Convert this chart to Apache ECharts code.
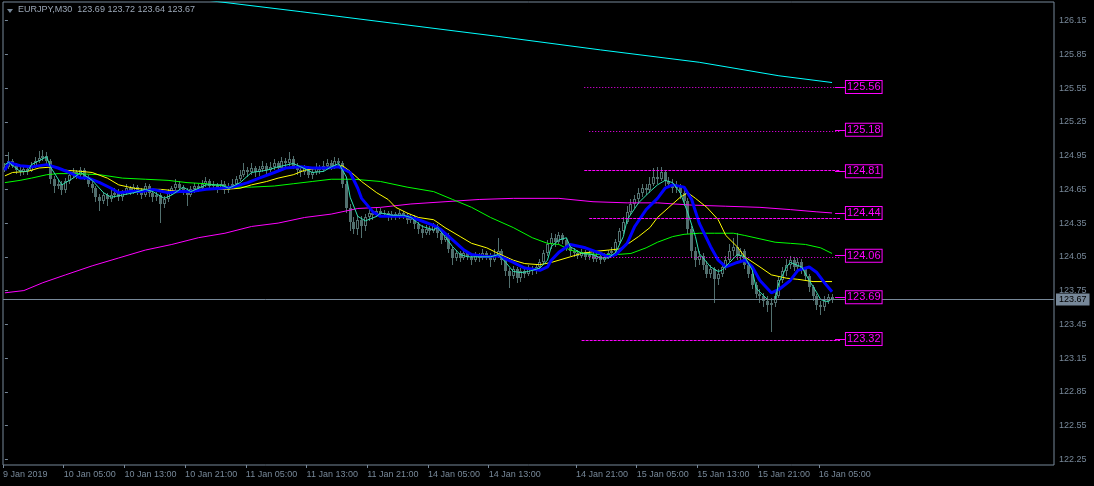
<!DOCTYPE html>
<html>
<head>
<meta charset="utf-8">
<script src="https://cdn.jsdelivr.net/npm/echarts@6/dist/echarts.min.js"></script>
<style>
html,body{margin:0;padding:0;background:#000;}
#chart{width:1094px;height:486px;}
</style>
</head>
<body>
<div id="chart"></div>
<script>
// ---------- data ----------
const SLOTS = 277; // bar slots across the plot (incl. empty right shift)
const titleText = 'EURJPY,M30  123.69 123.72 123.64 123.67';
const lastPrice = 123.67;

// x-axis tick bars and labels
const tickIdx = [0,16,32,48,64,80,96,112,128,151,167,183,199,215];
const tickText = ['9 Jan 2019','10 Jan 05:00','10 Jan 13:00','10 Jan 21:00','11 Jan 05:00','11 Jan 13:00','11 Jan 21:00','14 Jan 05:00','14 Jan 13:00','14 Jan 21:00','15 Jan 05:00','15 Jan 13:00','15 Jan 21:00','16 Jan 05:00'];
// y-axis tick values
const yTicks = [122.25,122.55,122.85,123.15,123.45,123.75,124.05,124.35,124.65,124.95,125.25,125.55,125.85,126.15];

// candles: [open, close, low, high]
const bars = [
[124.82,124.85,124.80,124.88],[124.85,124.90,124.83,124.98],[124.90,124.86,124.84,124.92],[124.86,124.82,124.79,124.88],[124.82,124.80,124.77,124.85],
[124.80,124.83,124.78,124.86],[124.83,124.81,124.78,124.85],[124.81,124.86,124.80,124.89],[124.86,124.90,124.84,124.94],[124.90,124.93,124.88,124.99],
[124.93,124.95,124.90,125.00],[124.95,124.90,124.87,124.98],[124.90,124.74,124.70,124.92],[124.74,124.68,124.62,124.77],[124.68,124.70,124.65,124.73],
[124.70,124.64,124.60,124.72],[124.64,124.72,124.62,124.75],[124.72,124.78,124.70,124.80],[124.78,124.80,124.75,124.84],[124.80,124.78,124.74,124.82],
[124.78,124.82,124.76,124.85],[124.82,124.76,124.73,124.84],[124.76,124.70,124.67,124.78],[124.70,124.66,124.62,124.72],[124.66,124.58,124.54,124.68],
[124.58,124.55,124.46,124.61],[124.55,124.60,124.52,124.63],[124.60,124.56,124.50,124.62],[124.56,124.60,124.54,124.64],[124.60,124.62,124.57,124.66],
[124.62,124.58,124.55,124.65],[124.58,124.62,124.55,124.64],[124.62,124.66,124.60,124.70],[124.66,124.63,124.60,124.68],[124.63,124.67,124.61,124.70],
[124.67,124.64,124.60,124.69],[124.64,124.60,124.56,124.66],[124.60,124.68,124.58,124.71],[124.68,124.62,124.58,124.70],[124.62,124.58,124.54,124.64],
[124.58,124.60,124.55,124.63],[124.60,124.52,124.35,124.62],[124.52,124.56,124.48,124.59],[124.56,124.62,124.54,124.65],[124.62,124.66,124.60,124.68],
[124.66,124.70,124.64,124.74],[124.70,124.66,124.62,124.72],[124.66,124.64,124.60,124.69],[124.64,124.60,124.50,124.66],[124.60,124.65,124.58,124.68],
[124.65,124.68,124.62,124.71],[124.68,124.66,124.63,124.70],[124.66,124.70,124.64,124.73],[124.70,124.72,124.67,124.76],[124.72,124.68,124.65,124.74],
[124.68,124.69,124.65,124.72],[124.69,124.66,124.62,124.71],[124.66,124.70,124.64,124.73],[124.70,124.64,124.61,124.72],[124.64,124.68,124.62,124.71],
[124.68,124.70,124.65,124.74],[124.70,124.74,124.68,124.77],[124.74,124.78,124.72,124.82],[124.78,124.82,124.76,124.88],[124.82,124.80,124.76,124.85],
[124.80,124.84,124.78,124.88],[124.84,124.80,124.76,124.86],[124.80,124.83,124.77,124.86],[124.83,124.86,124.80,124.90],[124.86,124.82,124.78,124.88],
[124.82,124.85,124.80,124.89],[124.85,124.88,124.82,124.92],[124.88,124.84,124.80,124.90],[124.84,124.90,124.82,124.94],[124.90,124.88,124.84,124.93],
[124.88,124.92,124.86,124.98],[124.92,124.86,124.83,124.95],[124.86,124.82,124.78,124.88],[124.82,124.80,124.76,124.85],[124.80,124.84,124.78,124.87],
[124.84,124.78,124.75,124.86],[124.78,124.80,124.74,124.84],[124.80,124.84,124.78,124.88],[124.84,124.82,124.79,124.87],[124.82,124.86,124.80,124.90],
[124.86,124.88,124.83,124.92],[124.88,124.85,124.82,124.91],[124.85,124.90,124.83,124.94],[124.90,124.88,124.84,124.93],[124.88,124.70,124.66,124.90],
[124.70,124.48,124.44,124.72],[124.48,124.36,124.28,124.52],[124.36,124.30,124.25,124.40],[124.30,124.38,124.24,124.42],[124.38,124.32,124.22,124.41],
[124.32,124.40,124.28,124.43],[124.40,124.44,124.37,124.48],[124.44,124.42,124.38,124.47],[124.42,124.46,124.40,124.49],[124.46,124.43,124.40,124.48],
[124.43,124.44,124.40,124.47],[124.44,124.40,124.37,124.46],[124.40,124.43,124.38,124.46],[124.43,124.41,124.38,124.45],[124.41,124.44,124.39,124.47],
[124.44,124.42,124.39,124.46],[124.42,124.38,124.34,124.44],[124.38,124.40,124.35,124.43],[124.40,124.34,124.30,124.42],[124.34,124.30,124.25,124.36],
[124.30,124.26,124.22,124.33],[124.26,124.30,124.24,124.33],[124.30,124.28,124.24,124.32],[124.28,124.32,124.26,124.35],[124.32,124.26,124.22,124.34],
[124.26,124.20,124.16,124.28],[124.20,124.24,124.18,124.27],[124.24,124.12,124.08,124.26],[124.12,124.04,123.98,124.14],[124.04,124.08,124.01,124.11],
[124.08,124.04,124.00,124.10],[124.04,124.08,124.02,124.11],[124.08,124.05,124.02,124.10],[124.05,124.02,123.98,124.07],[124.02,124.06,124.00,124.09],
[124.06,124.04,124.00,124.08],[124.04,124.08,124.02,124.12],[124.08,124.06,124.02,124.10],[124.06,124.02,123.96,124.08],[124.02,124.07,124.00,124.12],
[124.07,124.10,124.04,124.22],[124.10,124.02,123.98,124.12],[124.02,123.92,123.88,124.04],[123.92,123.88,123.77,123.95],[123.88,123.94,123.85,123.97],
[123.94,123.86,123.82,123.96],[123.86,123.92,123.83,123.95],[123.92,123.90,123.86,123.95],[123.90,123.95,123.88,123.98],[123.95,123.92,123.89,123.97],
[123.92,123.96,123.90,123.99],[123.96,124.00,123.93,124.03],[124.00,124.08,123.98,124.11],[124.08,124.16,124.06,124.20],[124.16,124.22,124.12,124.26],
[124.22,124.18,124.14,124.25],[124.18,124.24,124.16,124.27],[124.24,124.20,124.16,124.26],[124.20,124.14,124.10,124.22],[124.14,124.10,124.06,124.16],
[124.10,124.08,124.05,124.13],[124.08,124.06,124.03,124.11],[124.06,124.09,124.04,124.12],[124.09,124.05,124.02,124.11],[124.05,124.07,124.02,124.10],
[124.07,124.03,124.00,124.09],[124.03,124.06,124.00,124.09],[124.06,124.02,123.99,124.08],[124.02,124.05,124.00,124.08],[124.05,124.08,124.03,124.11],
[124.08,124.10,124.05,124.14],[124.10,124.18,124.08,124.21],[124.18,124.28,124.16,124.31],[124.28,124.36,124.25,124.40],[124.36,124.45,124.34,124.50],
[124.45,124.52,124.42,124.56],[124.52,124.56,124.48,124.60],[124.56,124.62,124.52,124.66],[124.62,124.66,124.58,124.70],[124.66,124.64,124.60,124.70],
[124.64,124.70,124.62,124.76],[124.70,124.76,124.68,124.84],[124.76,124.74,124.70,124.85],[124.74,124.80,124.72,124.85],[124.80,124.72,124.68,124.82],
[124.72,124.70,124.66,124.76],[124.70,124.66,124.62,124.74],[124.66,124.68,124.62,124.72],[124.68,124.62,124.56,124.70],[124.62,124.55,124.50,124.64],
[124.55,124.30,124.25,124.57],[124.30,124.10,124.04,124.32],[124.10,124.02,123.96,124.14],[124.02,124.06,123.98,124.10],[124.06,123.98,123.93,124.08],
[123.98,123.90,123.86,124.01],[123.90,123.94,123.86,123.98],[123.94,123.85,123.64,123.96],[123.85,123.90,123.80,123.94],[123.90,123.96,123.87,124.00],
[123.96,124.02,123.93,124.06],[124.02,124.10,124.00,124.16],[124.10,124.14,124.06,124.22],[124.14,124.06,124.02,124.26],[124.06,124.10,124.02,124.13],
[124.10,123.98,123.94,124.12],[123.98,123.90,123.86,124.00],[123.90,123.80,123.76,123.93],[123.80,123.72,123.68,123.83],[123.72,123.70,123.64,123.76],
[123.70,123.66,123.60,123.73],[123.66,123.62,123.56,123.70],[123.62,123.64,123.38,123.68],[123.64,123.70,123.60,123.74],[123.70,123.84,123.68,123.87],
[123.84,123.92,123.82,123.96],[123.92,123.98,123.88,124.03],[123.98,124.02,123.94,124.06],[124.02,123.96,123.92,124.05],[123.96,124.00,123.92,124.04],
[124.00,123.94,123.90,124.03],[123.94,123.88,123.84,123.96],[123.88,123.78,123.74,123.90],[123.78,123.70,123.66,123.80],[123.70,123.62,123.58,123.72],
[123.62,123.60,123.53,123.66],[123.60,123.66,123.57,123.70],[123.66,123.69,123.63,123.72],[123.69,123.67,123.64,123.72]
];

// moving averages as [bar index, price]
const fastMA = [[0,124.87],[1,124.89],[4,124.81],[6,124.81],[7,124.87],[11,124.94],[12,124.85],[15,124.69],[18,124.75],[20,124.80],[23,124.73],[26,124.62],[28,124.58],[31,124.60],[34,124.62],[37,124.65],[39,124.63],[42,124.57],[44,124.60],[47,124.67],[49,124.63],[53,124.69],[57,124.69],[59,124.66],[62,124.71],[65,124.80],[69,124.82],[72,124.85],[76,124.88],[78,124.85],[81,124.80],[84,124.81],[86,124.85],[88,124.88],[90,124.76],[91,124.58],[93,124.41],[95,124.37],[98,124.41],[99,124.44],[102,124.42],[105,124.42],[107,124.40],[110,124.32],[113,124.29],[114,124.31],[116,124.23],[118,124.14],[120,124.07],[122,124.05],[125,124.05],[128,124.05],[130,124.07],[132,124.00],[134,123.92],[136,123.91],[138,123.92],[141,123.95],[143,124.02],[144,124.14],[146,124.20],[148,124.22],[149,124.14],[152,124.08],[155,124.07],[157,124.04],[159,124.04],[161,124.09],[163,124.23],[164,124.38],[167,124.53],[170,124.63],[172,124.69],[174,124.73],[176,124.71],[178,124.62],[180,124.44],[182,124.23],[183,124.08],[186,123.96],[188,123.92],[189,123.93],[191,124.00],[193,124.07],[195,124.05],[197,123.93],[198,123.77],[201,123.67],[203,123.67],[204,123.82],[206,123.96],[207,124.00],[210,123.96],[212,123.84],[214,123.73],[215,123.67],[217,123.65],[218,123.68]];
const blueMA = [[0,124.82],[1,124.89],[4,124.86],[7,124.85],[11,124.87],[14,124.84],[17,124.80],[20,124.75],[22,124.75],[25,124.71],[28,124.66],[30,124.62],[33,124.63],[36,124.63],[39,124.65],[43,124.62],[46,124.63],[49,124.63],[53,124.65],[57,124.66],[60,124.67],[64,124.71],[67,124.75],[71,124.80],[74,124.84],[78,124.85],[81,124.84],[85,124.84],[88,124.85],[91,124.80],[93,124.66],[94,124.57],[97,124.45],[99,124.41],[102,124.41],[106,124.41],[109,124.38],[113,124.33],[115,124.29],[118,124.20],[121,124.11],[123,124.07],[127,124.05],[130,124.06],[134,124.00],[137,123.95],[141,123.93],[143,123.96],[144,124.02],[146,124.09],[149,124.16],[153,124.13],[157,124.08],[159,124.05],[161,124.07],[164,124.17],[166,124.32],[169,124.47],[172,124.57],[174,124.66],[176,124.69],[179,124.67],[181,124.56],[183,124.35],[186,124.14],[188,124.02],[190,123.96],[193,124.00],[195,124.02],[197,123.96],[199,123.84],[202,123.73],[204,123.76],[207,123.84],[209,123.93],[212,123.96],[214,123.91],[216,123.82],[218,123.74]];
const yellowMA = [[0,124.77],[2,124.80],[6,124.81],[9,124.84],[13,124.85],[16,124.82],[20,124.81],[23,124.80],[27,124.75],[30,124.69],[34,124.66],[37,124.65],[41,124.65],[44,124.64],[48,124.63],[51,124.65],[55,124.65],[58,124.65],[62,124.66],[65,124.69],[69,124.72],[72,124.75],[76,124.78],[79,124.82],[83,124.84],[86,124.85],[89,124.86],[91,124.81],[94,124.72],[98,124.62],[101,124.56],[103,124.49],[106,124.44],[109,124.40],[113,124.38],[116,124.31],[120,124.23],[123,124.17],[127,124.13],[130,124.08],[134,124.02],[137,123.99],[141,123.98],[144,124.00],[149,124.05],[152,124.08],[156,124.10],[159,124.11],[162,124.12],[164,124.16],[167,124.23],[170,124.31],[172,124.40],[175,124.49],[178,124.58],[180,124.62],[182,124.57],[185,124.49],[188,124.38],[190,124.24],[193,124.14],[195,124.05],[199,123.96],[202,123.89],[206,123.86],[209,123.85],[213,123.83],[218,123.83]];
const greenMA = [[0,124.71],[4,124.73],[7,124.75],[11,124.78],[14,124.79],[19,124.79],[25,124.78],[31,124.75],[37,124.74],[43,124.73],[48,124.71],[53,124.70],[60,124.67],[65,124.67],[71,124.68],[76,124.70],[81,124.72],[86,124.74],[92,124.74],[99,124.72],[106,124.67],[113,124.63],[118,124.56],[123,124.49],[128,124.40],[134,124.31],[139,124.22],[143,124.17],[146,124.16],[149,124.11],[153,124.08],[157,124.07],[161,124.07],[165,124.08],[169,124.13],[172,124.18],[176,124.23],[179,124.25],[183,124.26],[187,124.26],[192,124.26],[195,124.24],[199,124.21],[203,124.18],[207,124.17],[211,124.16],[215,124.13],[218,124.08]];
const magentaMA = [[0,123.73],[5,123.75],[10,123.82],[16,123.89],[23,123.97],[30,124.04],[37,124.11],[44,124.16],[51,124.22],[58,124.26],[65,124.32],[72,124.35],[79,124.40],[86,124.43],[93,124.48],[99,124.49],[107,124.52],[116,124.54],[125,124.56],[134,124.57],[146,124.57],[155,124.54],[164,124.53],[172,124.53],[181,124.51],[190,124.50],[199,124.49],[207,124.47],[214,124.45],[218,124.44]];
const cyanMA = [[0,126.58],[25,126.46],[56,126.32],[78,126.23],[104,126.12],[130,126.01],[157,125.89],[183,125.78],[204,125.66],[218,125.60]];

// pivot levels: label values, line values, line start bar, line style
const pivotLabels = [125.56,125.18,124.81,124.44,124.06,123.69,123.32];
const pivotLines  = [125.556,125.164,124.818,124.391,124.044,123.671,123.306];
const pivotStart  = [152.7,154,152.7,154,154,152.7,152];
const pivotStyle  = ['dot','dot','dash','dash','dot','dash','dash'];
const pivotEnd = 220.1;
const connFrom = 218.8, connTo = 221.4;

// ---------- styles ----------
const FG = '#778899';
const FONT = '"Liberation Sans", Arial, sans-serif';
const MAG = '#ff00ff';
const DASHES = {dot: [1, 2], dash: [3, 1]};
const CANDLE = '#52706f';

const tickPos = tickIdx.map(k => k - 0.5);
const tickMap = {};
tickPos.forEach((p, j) => { tickMap[p] = tickText[j]; });
const candleData = bars.map((b, i) => [i, b[0], b[1], b[2], b[3]]);

const chart = echarts.init(document.getElementById('chart'), null, {renderer: 'canvas'});

function renderCandle(params, api) {
  const i = api.value(0);
  const pO = api.coord([i, api.value(1)]);
  const pC = api.coord([i, api.value(2)]);
  const pL = api.coord([i, api.value(3)]);
  const pH = api.coord([i, api.value(4)]);
  const px = Math.floor(pO[0]);
  const yTop = Math.round(Math.min(pO[1], pC[1]));
  const yBot = Math.round(Math.max(pO[1], pC[1]));
  const bodyH = Math.max(1, yBot - yTop);
  const bull = api.value(2) > api.value(1);
  const children = [
    {type: 'rect', shape: {x: px, y: Math.round(pH[1]), width: 1, height: Math.max(1, Math.round(pL[1]) - Math.round(pH[1]))},
      style: {fill: CANDLE}},
    {type: 'rect', shape: {x: px - 1, y: yTop, width: 3, height: bodyH}, style: {fill: CANDLE}}
  ];
  if (bull && bodyH > 2) {
    children.push({type: 'rect', shape: {x: px, y: yTop + 1, width: 1, height: bodyH - 2}, style: {fill: '#000'}});
  }
  return {type: 'group', children: children};
}

function ma(data, color, width, z) {
  return {type: 'line', xAxisIndex: 0, yAxisIndex: 0, data: data, showSymbol: false, symbol: 'none',
    lineStyle: {color: color, width: width}, z: z, silent: true, clip: true};
}

const pivotSeries = {
  type: 'line', xAxisIndex: 0, yAxisIndex: 0, data: [], silent: true, z: 5,
  markLine: {
    silent: true, symbol: ['none', 'none'], animation: false,
    data: [].concat(
      pivotLines.map((v, j) => [
        {coord: [pivotStart[j], v], lineStyle: {color: MAG, width: 1, type: DASHES[pivotStyle[j]]}, label: {show: false}},
        {coord: [pivotEnd, v]}
      ]),
      pivotLabels.map(v => [
        {coord: [connFrom, v], lineStyle: {color: MAG, width: 1, type: 'solid'},
          label: {show: true, position: 'end', distance: 1, formatter: v.toFixed(2), color: MAG,
            fontFamily: FONT, fontSize: 11, lineHeight: 11, backgroundColor: '#000',
            borderColor: MAG, borderWidth: 1, padding: [1, 1, 0, 1]}},
        {coord: [connTo, v]}
      ]),
      [[
        {coord: [-0.5, lastPrice], lineStyle: {color: FG, width: 1, type: 'solid'},
          label: {show: true, position: 'end', distance: 2, formatter: lastPrice.toFixed(2), color: '#000',
            fontFamily: FONT, fontSize: 9, backgroundColor: FG, padding: [2, 3, 1, 3]}},
        {coord: [SLOTS - 0.5, lastPrice]}
      ]]
    )
  }
};

const option = {
  backgroundColor: '#000',
  animation: false,
  grid: {left: 2, right: 40, top: 2, bottom: 21, show: true, borderColor: FG, borderWidth: 1, containLabel: false},
  xAxis: [
    {type: 'value', min: -0.5, max: SLOTS - 0.5, position: 'bottom',
      axisLine: {show: false}, splitLine: {show: false},
      axisTick: {show: true, customValues: tickPos, length: 3, lineStyle: {color: FG}},
      axisLabel: {show: true, customValues: tickPos, formatter: v => tickMap[v] || '', align: 'left',
        color: FG, fontFamily: FONT, fontSize: 9, margin: 5}}
  ],
  yAxis: [{
    type: 'value', position: 'right', min: 122.199, max: 126.316, scale: true,
    axisLine: {show: false}, splitLine: {show: false},
    axisTick: {show: true, customValues: yTicks, length: 3, lineStyle: {color: FG}},
    axisLabel: {show: true, customValues: yTicks, formatter: v => v.toFixed(2), color: FG,
      fontFamily: FONT, fontSize: 9, margin: 5}
  }],
  graphic: [
    {type: 'polygon', shape: {points: [[7, 9], [13, 9], [10, 13]]}, style: {fill: FG}, silent: true},
    {type: 'text', left: 18, top: 5, style: {text: titleText, fill: '#9aa6b6', font: '9px ' + FONT}, silent: true}
  ],
  series: [
    {type: 'custom', xAxisIndex: 0, yAxisIndex: 0, data: candleData, renderItem: renderCandle,
      encode: {x: 0, y: [1, 2, 3, 4]}, clip: true, silent: true, z: 2},
    ma(magentaMA, '#ff00ff', 1, 3),
    ma(cyanMA, '#00ffff', 1, 3),
    ma(greenMA, '#00ff00', 1, 3),
    ma(yellowMA, '#ffff00', 1, 3),
    ma(blueMA, '#0000ff', 3, 4),
    ma(fastMA, '#30e0b0', 1, 4),
    pivotSeries
  ]
};
chart.setOption(option);
</script>
</body>
</html>
